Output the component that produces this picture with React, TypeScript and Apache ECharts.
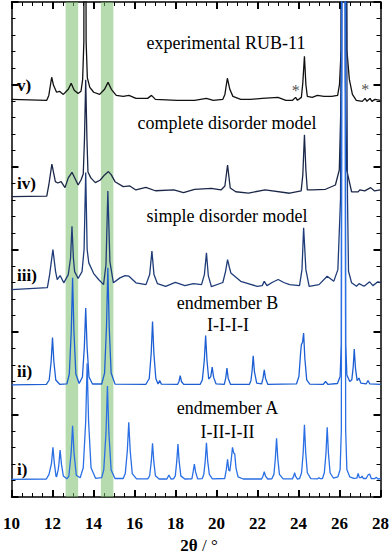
import React, { useEffect, useRef } from "react";
import * as echarts from "echarts";

const FONT = "Liberation Serif";

// 2θ tick range
const X_MIN = 10;
const X_MAX = 28;
const X_TICK = 2;

// Highlighted 2θ bands
const bands: [number, number][] = [
  [12.64, 13.25],
  [14.36, 14.97],
];

// Vertical offsets of each pattern (arb. units)
const offsets = [24.1, 18.2, 12.57, 6.8, 1.07];
const traceLabels = ["v)", "iv)", "iii)", "ii)", "i)"];
const traceColors = ["#111111", "#1b2748", "#1f3c78", "#1d5fd3", "#2a6fe4"];

// v) experimental RUB-11 : [2θ, intensity above baseline]
const expRUB11: [number, number][] = [
  [10, 0], [11.72, -0.06], [11.82, 0.24], [11.96, 1.34], [12.05, 0.85], [12.2, 0.43], [12.34, 0.49],
  [12.53, 0.3], [12.77, 0.61], [12.91, 0.97], [13.06, 0.55], [13.25, 0.36], [13.39, 0.49], [13.47, 1.2],
  [13.53, 3.5], [13.57, 40], [13.6, 40], [13.64, 3.5], [13.7, 1.3], [13.82, 0.73], [14.01, 0.43],
  [14.3, 0.3], [14.54, 0.61], [14.71, 1.03], [14.87, 0.61], [15.11, 0.24], [15.45, 0.18], [15.73, 0.24],
  [16.07, 0.06], [16.64, 0.06], [16.83, 0.24], [17.02, 0], [18.07, -0.06], [18.93, -0.06], [19.51, 0.06],
  [19.84, -0.06], [20.31, 0], [20.41, 0.3], [20.53, 1.28], [20.65, 0.61], [20.8, 0.18], [21.18, 0],
  [21.66, 0], [22.23, 0.06], [23.0, 0.12], [23.38, -0.06], [23.71, -0.06], [23.86, 0.12], [23.95, -0.06],
  [24.14, 0.12], [24.21, 1.0], [24.29, 2.61], [24.36, 0.9], [24.43, 0.18], [24.67, 0.12], [24.92, 0.24],
  [25.24, 0.18], [25.62, 0.18], [25.91, 0.24], [26.0, 0.91], [26.08, 3], [26.13, 40], [26.25, 40],
  [26.36, 3], [26.48, 1.21], [26.63, 0.3], [26.82, -0.06], [27.11, -0.12], [27.25, 0.06], [27.34, -0.12],
  [27.49, 0.06], [27.58, -0.12], [27.73, 0], [28, -0.06],
];

// iv) complete disorder model
const completeDisorder: [number, number][] = [
  [10, 0], [11.72, 0.04], [11.82, 0.71], [11.97, 1.97], [12.14, 0.91], [12.26, 0.83], [12.42, 0.91],
  [12.61, 0.55], [12.77, 1.14], [12.95, 1.48], [13.11, 1.07], [13.25, 0.71], [13.39, 1.01], [13.5, 1.38],
  [13.56, 3.5], [13.62, 7.09], [13.68, 3.5], [13.73, 1.5], [13.87, 1.14], [14.09, 0.85], [14.33, 1.01],
  [14.54, 1.32], [14.73, 1.52], [14.87, 1.32], [15.05, 0.91], [15.45, 0.61], [15.77, 0.65], [16.07, 0.41],
  [16.55, 0.57], [17.02, 0.36], [17.92, 0.41], [18.39, 0.24], [18.93, 0.45], [19.75, 0.51], [20.22, 0.41],
  [20.41, 0.65], [20.54, 1.92], [20.67, 0.53], [20.94, 0.3], [21.56, 0.22], [22.37, 0.41], [23.57, 0.21],
  [24.13, 0.35], [24.21, 1.32], [24.29, 3.75], [24.36, 1.62], [24.43, 0.41], [24.67, 0.41], [25.32, 0.45],
  [25.8, 0.71], [25.99, 1.62], [26.1, 7.08], [26.15, 40], [26.25, 40], [26.29, 7.08], [26.35, 1.62],
  [26.59, 0.3], [26.91, 0.29], [26.99, 0.41], [27.23, 0.35], [27.52, 0.55], [27.71, 0.35], [28, 0.41],
];

// iii) simple disorder model
const simpleDisorder: [number, number][] = [
  [10, 0], [11.75, 0.12], [11.86, 0.91], [12.02, 2.43], [12.15, 1.09], [12.23, 0.61], [12.37, 0.85],
  [12.55, 0.41], [12.77, 0.91], [12.88, 1.9], [12.95, 3.84], [13.02, 1.9], [13.08, 1.09], [13.25, 0.67],
  [13.44, 1.09], [13.54, 2.43], [13.62, 7.09], [13.69, 2.43], [13.77, 1.62], [14.01, 0.97], [14.25, 0.61],
  [14.49, 0.3], [14.61, 1.52], [14.7, 5.97], [14.8, 1.7], [14.97, 0.41], [15.29, 0.71], [15.54, 0.85],
  [15.73, 0.81], [16.07, 0.41], [16.56, 0.3], [16.74, 0.91], [16.85, 2.33], [16.95, 0.91], [17.12, 0.36],
  [17.52, 0.2], [17.99, 0.44], [18.46, 0.24], [18.87, 0.36], [19.27, 0.3], [19.41, 0.91], [19.51, 2.23],
  [19.6, 0.85], [19.75, 0.18], [20.31, 0.43], [20.44, 1.09], [20.54, 1.82], [20.63, 1.34], [20.7, 1.01],
  [21.18, 0.5], [21.98, 0.2], [22.23, 0.24], [22.33, 0.5], [22.46, 0.24], [22.71, 0.43], [23.01, 0.61],
  [23.28, 0.43], [23.57, 0.3], [24.05, 0.24], [24.17, 1.21], [24.25, 3.75], [24.36, 1.21], [24.52, 0.2],
  [25.0, 0.3], [25.4, 0.81], [25.72, 0.5], [25.92, 1.21], [26.05, 5.5], [26.14, 40], [26.27, 40],
  [26.39, 5.5], [26.44, 1.11], [26.59, 0.41], [26.83, 0.2], [26.95, 0.36], [27.2, 0.2], [27.47, 0.47],
  [27.63, 0.24], [27.87, 0.47], [28, 0.43],
];

// ii) endmember B (I-I-I-I)
const endmemberB: [number, number][] = [
  [10, 0], [11.7, 0.02], [11.84, 0.29], [11.935, 1.43], [12.0, 2.87], [12.065, 1.43], [12.16, 0.29],
  [12.35, 0.03], [12.7, 0.05], [12.82, 0.65], [12.915, 3.24], [12.98, 6.48], [13.045, 3.24], [13.14, 0.65],
  [13.3, 0.08], [13.46, 0.47], [13.555, 2.33], [13.62, 4.66], [13.685, 2.33], [13.78, 0.47], [13.95, 0.05],
  [14.4, 0.05], [14.54, 0.71], [14.635, 3.55], [14.7, 7.1], [14.765, 3.55], [14.86, 0.71], [15.05, 0.04],
  [16.55, 0.02], [16.72, 0.38], [16.815, 1.92], [16.88, 3.84], [16.945, 1.92], [17.04, 0.38], [17.15, 0.05],
  [17.23, 0.26], [17.31, 0.04], [18.1, 0.02], [18.17, 0.2], [18.23, 0.55], [18.29, 0.2], [18.4, 0.02],
  [19.2, 0.02], [19.31, 0.3], [19.405, 1.49], [19.47, 2.98], [19.535, 1.49], [19.62, 0.35], [19.72, 0.5],
  [19.79, 1.07], [19.86, 0.45], [19.98, 0.05], [20.38, 0.03], [20.45, 0.4], [20.51, 1.01], [20.57, 0.4],
  [20.68, 0.03], [21.6, 0.02], [21.68, 0.25], [21.74, 0.9], [21.79, 1.76], [21.85, 0.8], [21.96, 0.1],
  [22.2, 0.05], [22.27, 0.4], [22.33, 0.91], [22.39, 0.4], [22.5, 0.03], [23.9, 0.05], [24.02, 0.5],
  [24.1, 1.9], [24.14, 2.43], [24.2, 2.6], [24.25, 3.14], [24.31, 1.6], [24.4, 0.3], [24.55, 0.04],
  [25.2, 0.02], [25.32, 0.2], [25.44, 0.02], [25.9, 0.08], [26.03, 0.5], [26.09, 2.5], [26.12, 40],
  [26.27, 40], [26.3, 2.5], [26.36, 0.6], [26.5, 0.2], [26.6, 0.3], [26.67, 1.1], [26.72, 2.17],
  [26.78, 1.0], [26.86, 0.25], [26.95, 0.41], [27.04, 0.1], [27.3, 0.05], [27.39, 0.26], [27.48, 0.05],
  [28, 0.02],
];

// i) endmember A (I-II-I-II)
const endmemberA: [number, number][] = [
  [10, 0], [11.7, 0.02], [11.83, 0.3], [11.95, 0.97], [12.02, 1.94], [12.09, 0.97], [12.17, 0.2],
  [12.2, 0.15], [12.28, 0.6], [12.31, 0.89], [12.37, 1.78], [12.44, 0.89], [12.53, 0.2], [12.7, 0.03],
  [12.8, 0.2], [12.91, 1.62], [12.98, 3.25], [13.05, 1.62], [13.16, 0.25], [13.35, 0.1], [13.5, 0.7],
  [13.62, 3.52], [13.69, 7.04], [13.76, 3.52], [13.88, 0.7], [14.1, 0.06], [14.4, 0.1], [14.5, 0.57],
  [14.61, 2.83], [14.68, 5.66], [14.75, 2.83], [14.86, 0.57], [15.05, 0.05], [15.45, 0.05], [15.55, 0.35],
  [15.65, 1.73], [15.72, 3.46], [15.79, 1.73], [15.89, 0.35], [16.1, 0.03], [16.65, 0.03], [16.74, 0.22],
  [16.82, 1.1], [16.88, 2.19], [16.94, 1.1], [17.02, 0.22], [17.2, 0.02], [17.58, 0.02], [17.68, 0.26],
  [17.78, 0.02], [17.9, 0.03], [17.99, 0.21], [18.06, 1.07], [18.12, 2.14], [18.18, 1.07], [18.26, 0.21],
  [18.45, 0.02], [18.8, 0.03], [18.86, 0.45], [18.92, 0.93], [18.98, 0.45], [19.08, 0.03], [19.3, 0.04],
  [19.38, 0.3], [19.45, 1.11], [19.51, 2.22], [19.57, 1.11], [19.65, 0.3], [19.8, 0.03], [20.4, 0.05],
  [20.48, 0.6], [20.54, 1.21], [20.6, 0.55], [20.65, 0.5], [20.72, 1.2], [20.78, 1.94], [20.84, 1.6],
  [20.89, 1.54], [20.95, 0.7], [21.05, 0.15], [21.3, 0.02], [22.2, 0.02], [22.27, 0.2], [22.33, 0.46],
  [22.39, 0.2], [22.5, 0.02], [22.7, 0.03], [22.8, 0.3], [22.87, 1.25], [22.93, 2.49], [22.99, 1.25],
  [23.07, 0.3], [23.25, 0.03], [23.7, 0.03], [23.76, 0.18], [23.81, 0.4], [23.86, 0.18], [23.95, 0.02],
  [24.05, 0.04], [24.15, 0.4], [24.23, 1.65], [24.29, 3.3], [24.35, 1.65], [24.43, 0.4], [24.6, 0.04],
  [24.93, 0.03], [25.0, 0.1], [25.07, 0.04], [25.17, 0.05], [25.26, 0.4], [25.34, 1.58], [25.4, 3.16],
  [25.46, 1.58], [25.54, 0.4], [25.7, 0.08], [25.92, 0.15], [26.03, 0.6], [26.09, 3], [26.12, 40],
  [26.27, 40], [26.3, 3], [26.36, 0.6], [26.5, 0.15], [26.7, 0.06], [26.85, 0.08], [26.91, 0.36],
  [26.97, 0.1], [27.05, 0.1], [27.1, 0.2], [27.16, 0.05], [27.3, 0.05], [27.4, 0.28], [27.47, 0.32],
  [27.55, 0.05], [27.7, 0.04], [27.8, 0.12], [27.88, 0.02], [28, 0.04],
];

const traces = [expRUB11, completeDisorder, simpleDisorder, endmemberB, endmemberA];

// Titles of each pattern: [text, centre x px, centre y px]
const titles: [string, number, number][] = [
  ["experimental RUB-11", 226, 43],
  ["complete disorder model", 227, 123],
  ["simple disorder model", 227, 216],
  ["endmember B", 227.5, 303],
  ["I-I-I-I", 228, 325],
  ["endmember A", 227.5, 408],
  ["I-II-I-II", 227.5, 432],
];
const labelY = [85, 183, 275, 371, 469];
// impurity markers (asterisks) [2θ, y] on experimental pattern
const asterisks: [number, number][] = [
  [23.86, 24.65],
  [27.25, 24.72],
];

export default function App() {
  const ref = useRef<HTMLDivElement>(null);
  useEffect(() => {
    if (!ref.current) return;
    const chart = echarts.init(ref.current, null, { renderer: "svg" });
    const axisCommon = {
      type: "value" as const,
      axisLine: { show: true, onZero: false, lineStyle: { color: "#000", width: 1.5 } },
      splitLine: { show: false },
    };
    const xAxisBase = {
      ...axisCommon,
      min: X_MIN,
      max: X_MAX,
      interval: X_TICK,
      axisTick: { show: true, inside: true, length: 7, lineStyle: { color: "#000", width: 2 } },
      minorTick: { show: true, splitNumber: 4, length: 4, lineStyle: { color: "#000", width: 1 } },
    };
    const yAxisBase = {
      ...axisCommon,
      min: 0,
      max: 30,
      interval: 5,
      axisLabel: { show: false },
      axisTick: { show: true, inside: true, length: 7, lineStyle: { color: "#000", width: 2 } },
      minorTick: { show: true, splitNumber: 5, length: 4, lineStyle: { color: "#000", width: 1 } },
    };
    const series: any[] = [
      {
        type: "line",
        data: [],
        z: 1,
        silent: true,
        markArea: {
          silent: true,
          itemStyle: { color: "rgba(120,190,110,0.55)" },
          data: bands.map(([a, b]) => [{ xAxis: a }, { xAxis: b }]),
        },
      },
    ];
    traces.forEach((t, i) => {
      series.push({
        type: "line",
        data: t.map(([x, d]) => [x, d + offsets[i]]),
        symbol: "none",
        clip: true,
        z: 3 + i,
        lineStyle: { color: traceColors[i], width: 1.3 },
      });
    });
    series.push({
      type: "scatter",
      data: asterisks,
      symbolSize: 0,
      z: 10,
      label: {
        show: true,
        formatter: "*",
        position: "inside",
        fontFamily: FONT,
        fontSize: 16,
        color: "#222",
      },
    });
    const graphic: any[] = [];
    titles.forEach(([t, x, y]) =>
      graphic.push({
        type: "text",
        x,
        y,
        z: 20,
        style: { text: t, fontFamily: FONT, fontSize: 18, fill: "#000", align: "center", verticalAlign: "middle" },
      })
    );
    traceLabels.forEach((t, i) =>
      graphic.push({
        type: "text",
        x: 17,
        y: labelY[i],
        z: 20,
        style: { text: t, fontFamily: FONT, fontSize: 17, fontWeight: "bold", fill: "#000", align: "left", verticalAlign: "middle" },
      })
    );
    graphic.push({
      type: "text",
      x: 199,
      y: 545,
      style: {
        text: "{b|2θ} / °",
        fontFamily: FONT,
        fontSize: 17,
        fill: "#000",
        align: "center",
        verticalAlign: "middle",
        rich: { b: { fontFamily: FONT, fontSize: 17, fontWeight: "bold", fill: "#000" } },
      },
    });
    chart.setOption({
      animation: false,
      grid: { left: 6, top: 2, width: 377, height: 495, containLabel: false },
      xAxis: [
        {
          ...xAxisBase,
          position: "bottom",
          axisLabel: { show: true, fontFamily: FONT, fontSize: 17, fontWeight: "bold", color: "#000", margin: 18 },
        },
        { ...xAxisBase, position: "top", axisLabel: { show: false } },
      ],
      yAxis: [
        { ...yAxisBase, position: "left" },
        { ...yAxisBase, position: "right" },
      ],
      series,
      graphic,
    });
    return () => chart.dispose();
  }, []);
  return (
    <div
      ref={ref}
      style={{ position: "fixed", left: 0, top: 0, width: 392, height: 554, background: "#fff" }}
    />
  );
}
